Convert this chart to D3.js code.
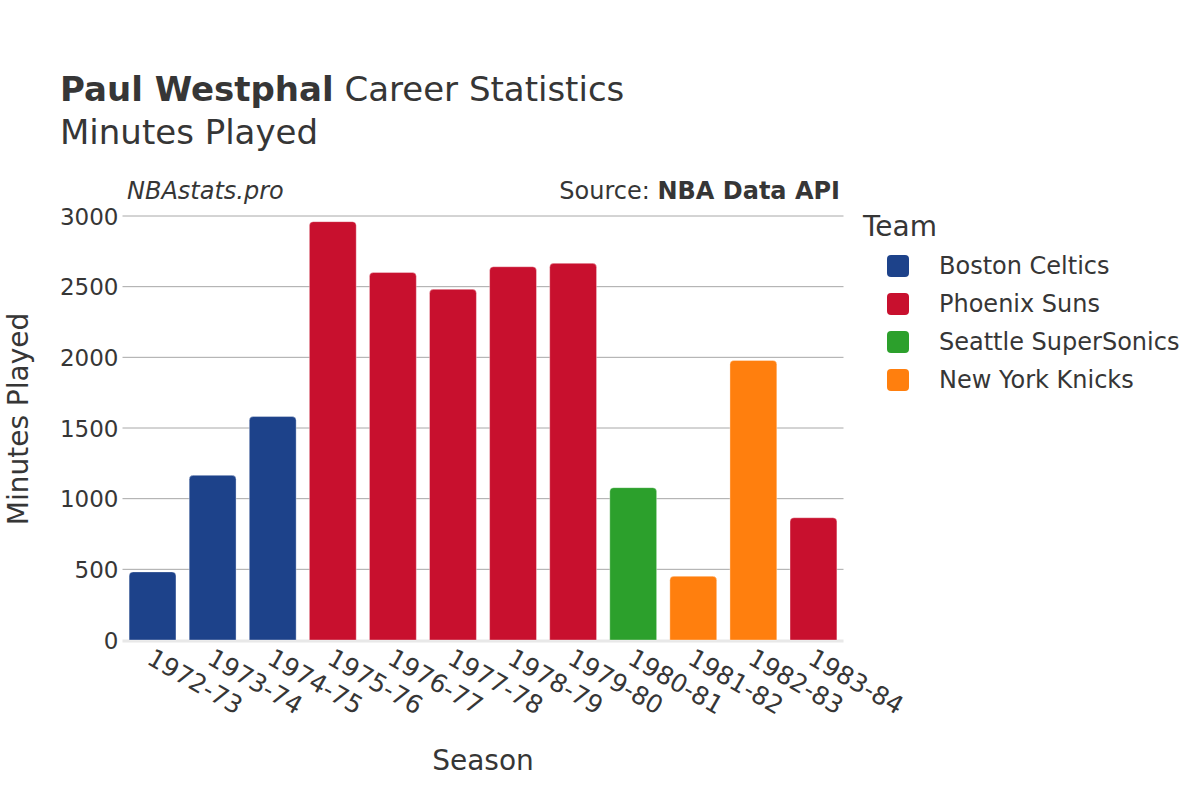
<!DOCTYPE html>
<html><head><meta charset="utf-8">
<script src="https://cdn.jsdelivr.net/npm/d3@7"></script>
<style>body{margin:0;background:#fff}svg{font-family:"DejaVu Sans",sans-serif}</style>
</head><body><svg id="c" width="1200" height="800"></svg>
<script>
const seasons = ["1972-73","1973-74","1974-75","1975-76","1976-77","1977-78","1978-79","1979-80","1980-81","1981-82","1982-83","1983-84"];
const minutes = [482,1165,1581,2960,2600,2481,2641,2665,1078,451,1978,865];
const teamOf = ["Boston Celtics","Boston Celtics","Boston Celtics","Phoenix Suns","Phoenix Suns","Phoenix Suns","Phoenix Suns","Phoenix Suns","Seattle SuperSonics","New York Knicks","New York Knicks","Phoenix Suns"];
const teams = ["Boston Celtics","Phoenix Suns","Seattle SuperSonics","New York Knicks"];
const teamColors = ["#1d428a","#c8102e","#2ca02c","#ff7f0e"];
const yTicks = [0,500,1000,1500,2000,2500,3000];

const svg = d3.select("#c");
const txt = "#363636";
const L=122.5, R=843.5, T=216, B=640;
const x = d3.scaleBand().domain(seasons).range([L,R]).paddingInner(0.22).paddingOuter(0.11);
const y = d3.scaleLinear().domain([0,3000]).range([B,T]);
const color = d3.scaleOrdinal().domain(teams).range(teamColors);

// grid
svg.append("g").selectAll("line").data(yTicks.filter(d=>d>0)).join("line")
  .attr("x1",L).attr("x2",R).attr("y1",d=>y(d)).attr("y2",d=>y(d))
  .attr("stroke","#a8a8a8").attr("stroke-width",1);
svg.append("line").attr("x1",L).attr("x2",R).attr("y1",y(0)+1).attr("y2",y(0)+1)
  .attr("stroke","#e8e8e8").attr("stroke-width",3);

// y axis
const ya = svg.append("g").attr("transform",`translate(${L-4},0)`)
  .call(d3.axisLeft(y).tickValues(yTicks).tickSize(0).tickPadding(0).tickFormat(d3.format("d")));
ya.select(".domain").remove();
ya.selectAll("text").attr("font-size",23).attr("fill",txt).attr("dy","0.35em").attr("font-family","DejaVu Sans");

// bars with rounded tops
const r=4;
function barPath(d,i){
  const x0=x(d), w=x.bandwidth(), y0=y(minutes[i]), yb=y(0);
  return `M${x0},${yb}V${y0+r}Q${x0},${y0} ${x0+r},${y0}H${x0+w-r}Q${x0+w},${y0} ${x0+w},${y0+r}V${yb}Z`;
}
svg.append("g").selectAll("path").data(seasons).join("path")
  .attr("d",barPath).attr("fill",(d,i)=>color(teamOf[i]))
  .attr("stroke","rgba(255,255,255,0.35)").attr("stroke-width",1);

// x axis
const xa = svg.append("g").attr("transform",`translate(0,${B})`)
  .call(d3.axisBottom(x).tickSize(0).tickPadding(0));
xa.select(".domain").remove();
xa.selectAll("text").attr("font-size",25).attr("fill",txt).attr("font-family","DejaVu Sans")
  .attr("text-anchor","start").attr("dy",0)
  .attr("transform","translate(-7,23) rotate(30)");

// titles
const t = svg.append("text").attr("x",60).attr("y",101).attr("font-size",34).attr("fill",txt);
t.append("tspan").attr("font-weight","bold").text("Paul Westphal");
t.append("tspan").text(" Career Statistics");
svg.append("text").attr("x",60).attr("y",144).attr("font-size",34).attr("fill",txt).text("Minutes Played");
svg.append("text").attr("x",127).attr("y",199).attr("font-size",24).attr("font-style","italic").attr("fill",txt).text("NBAstats.pro");
const s = svg.append("text").attr("x",840).attr("y",199).attr("font-size",24).attr("text-anchor","end").attr("fill",txt);
s.append("tspan").text("Source: ");
s.append("tspan").attr("font-weight","bold").text("NBA Data API");

svg.append("text").attr("x",483).attr("y",770).attr("font-size",28).attr("text-anchor","middle").attr("fill",txt).text("Season");
svg.append("text").attr("transform","translate(28,419) rotate(-90)").attr("font-size",28).attr("text-anchor","middle").attr("fill",txt).text("Minutes Played");

// legend
svg.append("text").attr("x",863).attr("y",236).attr("font-size",28).attr("fill",txt).text("Team");
const lg = svg.append("g").selectAll("g").data(teams).join("g")
  .attr("transform",(d,i)=>`translate(0,${266+i*38})`);
lg.append("rect").attr("x",887).attr("y",-11).attr("width",22).attr("height",22).attr("rx",4)
  .attr("fill",d=>color(d));
lg.append("text").attr("x",939).attr("y",0).attr("dy","0.35em").attr("font-size",24).attr("fill",txt).text(d=>d);
</script></body></html>
